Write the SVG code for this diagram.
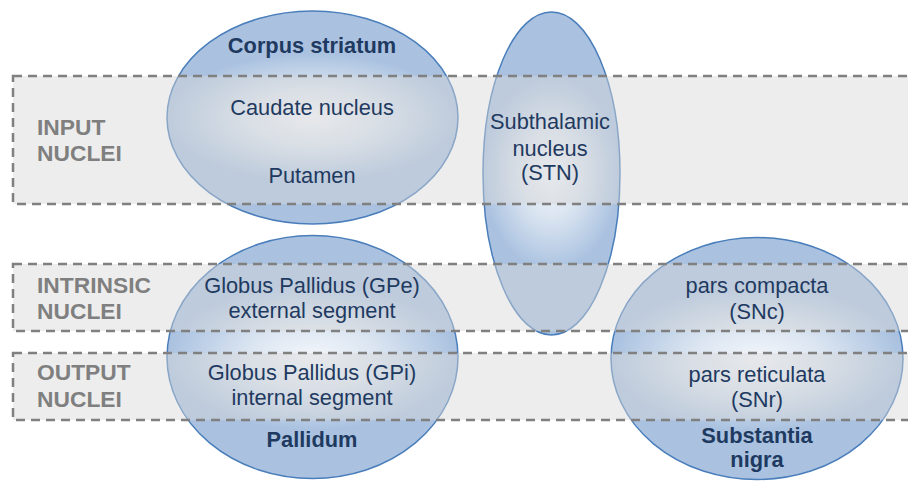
<svg xmlns="http://www.w3.org/2000/svg" width="908" height="481" viewBox="0 0 908 481">
<style>
.ell{fill:url(#g);stroke:#4a7ebb;stroke-width:1.5}
.band{fill:#d6d6d6;fill-opacity:0.45;stroke:#808080;stroke-width:2.5;stroke-dasharray:9 6}
.lab{font-family:"Liberation Sans",Arial,sans-serif;font-weight:bold;font-size:22.8px;fill:#7f7f7f}
.t{font-family:"Liberation Sans",Arial,sans-serif;font-size:21.8px;fill:#1f3a60;text-anchor:middle}
.b{font-weight:bold}
</style>
<defs>
<radialGradient id="g" cx="0.5" cy="0.5" r="0.5" gradientTransform="translate(0.5 0.5) scale(1 0.6) translate(-0.5 -0.5)">
<stop offset="0" stop-color="#f3f6fb"/>
<stop offset="0.45" stop-color="#dbe5f1"/>
<stop offset="1" stop-color="#aac2e0"/>
</radialGradient>
</defs>
<rect width="908" height="481" fill="#ffffff"/>
<g id="corpus-striatum-shape"><ellipse class="ell" cx="312.5" cy="117.5" rx="145.5" ry="106.5"/></g>
<g id="stn-shape"><ellipse class="ell" cx="551.5" cy="173.5" rx="68.5" ry="161.5"/></g>
<g id="pallidum-shape"><ellipse class="ell" cx="312.5" cy="357" rx="145.5" ry="121.5"/></g>
<g id="sn-shape"><ellipse class="ell" cx="757" cy="358.5" rx="146" ry="121"/></g>
<g id="bands">
<rect class="band" x="13" y="76" width="1000" height="128"/>
<rect class="band" x="13" y="264" width="1000" height="67"/>
<rect class="band" x="13" y="353" width="1000" height="67"/>
</g>
<g id="input-label"><text class="lab" x="37" y="135">INPUT</text><text class="lab" x="37" y="161">NUCLEI</text></g>
<g id="intrinsic-label"><text class="lab" x="37" y="293">INTRINSIC</text><text class="lab" x="37" y="319">NUCLEI</text></g>
<g id="output-label"><text class="lab" x="37" y="380">OUTPUT</text><text class="lab" x="37" y="407">NUCLEI</text></g>
<g id="corpus-striatum">
<text class="t b" x="312" y="53">Corpus striatum</text>
<text class="t" x="312" y="115">Caudate nucleus</text>
<text class="t" x="312" y="183">Putamen</text>
</g>
<g id="stn">
<text class="t" x="550" y="129">Subthalamic</text>
<text class="t" x="550" y="156">nucleus</text>
<text class="t" x="550" y="180">(STN)</text>
</g>
<g id="pallidum">
<text class="t" x="312" y="293">Globus Pallidus (GPe)</text>
<text class="t" x="312" y="318">external segment</text>
<text class="t" x="312" y="380">Globus Pallidus (GPi)</text>
<text class="t" x="312" y="405">internal segment</text>
<text class="t b" x="312" y="447">Pallidum</text>
</g>
<g id="substantia-nigra">
<text class="t" x="757" y="293">pars compacta</text>
<text class="t" x="757" y="319">(SNc)</text>
<text class="t" x="757" y="382">pars reticulata</text>
<text class="t" x="757" y="407">(SNr)</text>
<text class="t b" x="757" y="443">Substantia</text>
<text class="t b" x="757" y="467">nigra</text>
</g>
<g id="connectors"/>
</svg>
